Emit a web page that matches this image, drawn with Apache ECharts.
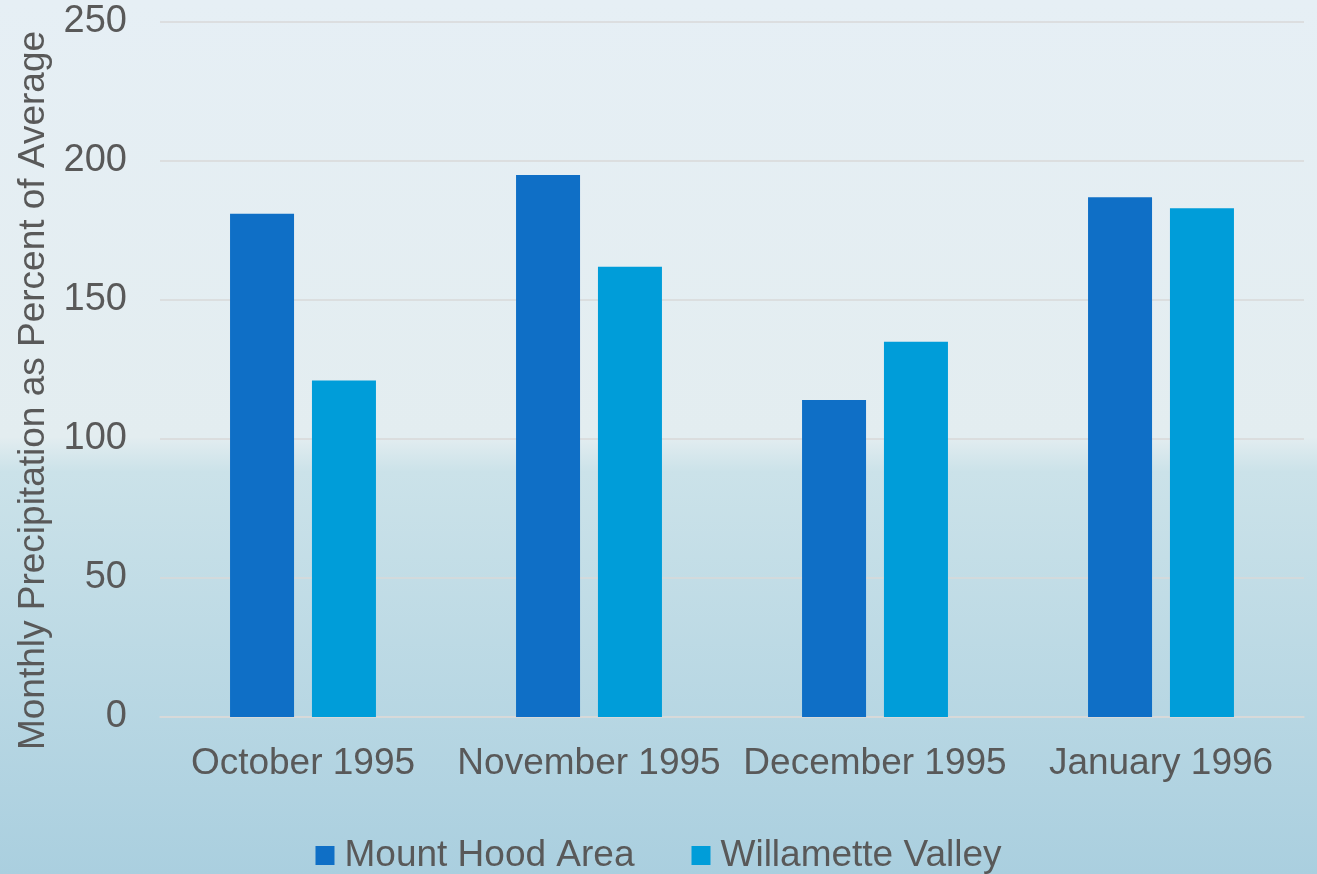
<!DOCTYPE html>
<html>
<head>
<meta charset="utf-8">
<script src="https://cdn.jsdelivr.net/npm/echarts@6/dist/echarts.min.js"></script>
<style>
  html, body { margin: 0; padding: 0; }
  #chart { width: 1317px; height: 874px; }
</style>
</head>
<body>
<div id="chart"></div>
<script>
const months = ["October 1995", "November 1995", "December 1995", "January 1996"];
const mountHood = [181, 195, 114, 187];
const willamette = [121, 162, 135, 183];
const seriesNames = ["Mount Hood Area", "Willamette Valley"];
const yTitle = "Monthly Precipitation as Percent of Average";

const textColor = "#595959";
const font = "Liberation Sans, Arial, sans-serif";

const chart = echarts.init(document.getElementById("chart"));

chart.setOption({
  backgroundColor: {
    type: "linear", x: 0, y: 0, x2: 0, y2: 1,
    colorStops: [
      { offset: 0, color: "#e6eff5" },
      { offset: 0.5, color: "#e3edf0" },
      { offset: 0.54, color: "#cbe2e9" },
      { offset: 1, color: "#aacfdf" }
    ]
  },
  animation: false,
  grid: { left: 160, right: 13, top: 22, bottom: 157 },
  legend: {
    top: 832,
    left: "center",
    icon: "rect",
    itemWidth: 19,
    itemHeight: 19,
    itemGap: 57,
    textStyle: { fontSize: 37, color: textColor, fontFamily: font, padding: [0, 0, 0, 5] },
    data: seriesNames
  },
  xAxis: {
    type: "category",
    data: months,
    axisTick: { show: false },
    axisLine: { lineStyle: { color: "#d9d9d9", width: 1.5 } },
    axisLabel: { fontSize: 37, color: textColor, fontFamily: font, margin: 28, interval: 0 }
  },
  yAxis: {
    type: "value",
    min: 0,
    max: 250,
    interval: 50,
    name: yTitle,
    nameLocation: "middle",
    nameGap: 107,
    // right padding nudges the rotated title down to where the reference has it
    nameTextStyle: { fontSize: 37, color: textColor, fontFamily: font, padding: [0, 42, 0, 0] },
    axisLine: { show: false },
    axisTick: { show: false },
    axisLabel: { fontSize: 38, color: textColor, fontFamily: font, margin: 33 },
    splitLine: { lineStyle: { color: "#d9d9d9", width: 1.5 } }
  },
  series: [
    {
      name: seriesNames[0],
      type: "bar",
      data: mountHood,
      barWidth: 64,
      barGap: "28%",
      itemStyle: { color: "#0f6fc6" }
    },
    {
      name: seriesNames[1],
      type: "bar",
      data: willamette,
      barWidth: 64,
      itemStyle: { color: "#009dd9" }
    }
  ]
});
</script>
</body>
</html>
